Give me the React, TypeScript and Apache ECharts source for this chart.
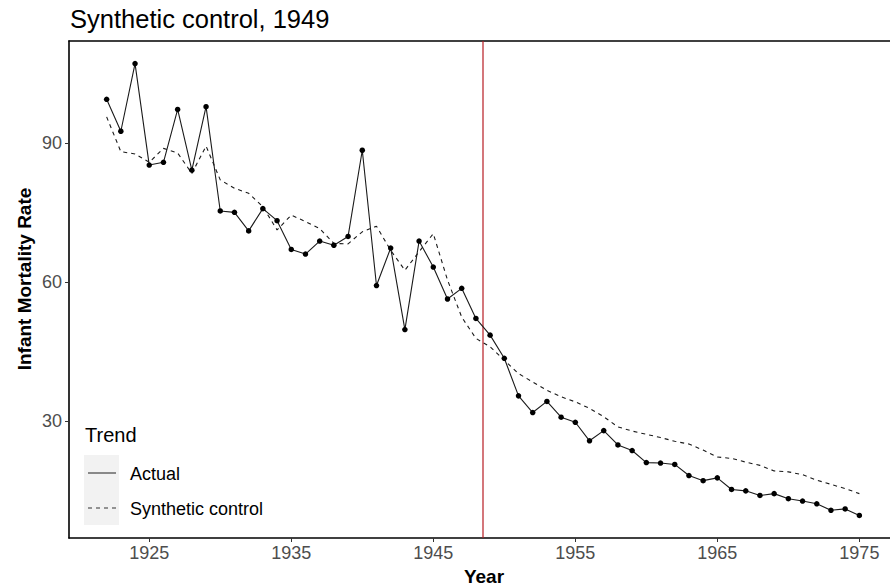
import React, { useEffect, useRef } from "react";
import * as echarts from "echarts";

// Infant mortality: observed series vs. synthetic control, 1922–1975
const years: number[] = [
  1922, 1923, 1924, 1925, 1926, 1927, 1928, 1929, 1930, 1931,
  1932, 1933, 1934, 1935, 1936, 1937, 1938, 1939, 1940, 1941,
  1942, 1943, 1944, 1945, 1946, 1947, 1948, 1949, 1950, 1951,
  1952, 1953, 1954, 1955, 1956, 1957, 1958, 1959, 1960, 1961,
  1962, 1963, 1964, 1965, 1966, 1967, 1968, 1969, 1970, 1971,
  1972, 1973, 1974, 1975,
];

const actual: number[] = [
  99.4, 92.5, 107.1, 85.2, 85.8, 97.2, 84.1, 97.8, 75.3, 75.0,
  71.0, 75.8, 73.2, 67.0, 66.0, 68.8, 67.9, 69.8, 88.4, 59.2,
  67.3, 49.7, 68.8, 63.2, 56.3, 58.6, 52.1, 48.5, 43.5, 35.4,
  31.8, 34.2, 30.8, 29.7, 25.7, 27.9, 24.8, 23.6, 21.0, 20.9,
  20.6, 18.2, 17.1, 17.7, 15.2, 14.9, 13.9, 14.3, 13.2, 12.7,
  12.1, 10.7, 11.0, 9.6,
];

const synthetic: number[] = [
  95.6, 88.1, 87.6, 85.8, 88.8, 87.8, 83.4, 89.3, 82.0, 80.2,
  79.1, 76.2, 71.2, 74.4, 73.0, 71.5, 68.3, 68.2, 70.8, 72.0,
  66.8, 62.5, 66.5, 70.4, 60.4, 52.4, 47.8, 46.0, 43.1, 40.2,
  38.4, 36.6, 35.2, 34.1, 32.7, 30.9, 28.7, 27.8, 27.1, 26.4,
  25.6, 25.0, 23.7, 22.2, 21.9, 21.1, 20.4, 19.2, 19.0, 18.4,
  17.2, 16.3, 15.4, 14.3,
];

const xTicks: number[] = [1925, 1935, 1945, 1955, 1965, 1975];
const yTicks: number[] = [30, 60, 90];
const treatmentYear = 1948.5;
const titleText = "Synthetic control, 1949";
const legendTitle = "Trend";
const seriesNames: string[] = ["Actual", "Synthetic control"];

const FONT = '"Liberation Sans", Arial, Helvetica, sans-serif';
const FRAME = { color: "#000000", width: 1.6 };

// 5% padding on each side of the data range
function expanded(values: number[]): [number, number] {
  const lo = Math.min(...values);
  const hi = Math.max(...values);
  const pad = (hi - lo) * 0.05;
  return [lo - pad, hi + pad];
}

export default function App() {
  const ref = useRef<HTMLDivElement>(null);

  useEffect(() => {
    if (!ref.current) return;
    const chart = echarts.init(ref.current, undefined, { renderer: "svg" });

    const [xMin, xMax] = expanded(years);
    const [yMin, yMax] = expanded([...actual, ...synthetic]);

    const actualData = years.map((y, i) => [y, actual[i]]);
    const syntheticData = years.map((y, i) => [y, synthetic[i]]);
    const treatmentLine = [
      [treatmentYear, yMin],
      [treatmentYear, yMax],
    ];

    const legendX = 84;
    const keyTop = 455;
    const keyRow = 35;

    chart.setOption({
      animation: false,
      backgroundColor: "#ffffff",
      textStyle: { fontFamily: FONT },
      grid: {
        left: 69,
        top: 41,
        width: 828,
        height: 497,
        show: false,
        containLabel: false,
        outerBoundsMode: "none",
      },
      xAxis: [
        {
          type: "value",
          position: "bottom",
          min: xMin,
          max: xMax,
          axisLine: { show: true, onZero: false, lineStyle: FRAME },
          splitLine: { show: false },
          axisTick: {
            show: true,
            length: 4,
            customValues: xTicks,
            lineStyle: { color: "#333333", width: 1 },
          },
          axisLabel: {
            customValues: xTicks,
            margin: 6,
            color: "#4d4d4d",
            fontSize: 18,
            fontFamily: FONT,
            formatter: (v: number) => String(v),
          },
        },
        {
          // top edge of the panel frame
          type: "value",
          position: "top",
          min: xMin,
          max: xMax,
          axisLine: { show: true, onZero: false, lineStyle: FRAME },
          splitLine: { show: false },
          axisTick: { show: false },
          axisLabel: { show: false },
        },
      ],
      yAxis: {
        type: "value",
        min: yMin,
        max: yMax,
        axisLine: { show: true, onZero: false, lineStyle: FRAME },
        splitLine: { show: false },
        axisTick: {
          show: true,
          length: 4,
          customValues: yTicks,
          lineStyle: { color: "#333333", width: 1 },
        },
        axisLabel: {
          customValues: yTicks,
          margin: 7,
          color: "#4d4d4d",
          fontSize: 18,
          fontFamily: FONT,
          formatter: (v: number) => String(v),
        },
      },
      series: [
        {
          name: "treatment",
          type: "line",
          data: treatmentLine,
          symbol: "none",
          silent: true,
          lineStyle: { color: "#b81c22", width: 1.2 },
          z: 1,
        },
        {
          name: seriesNames[1],
          type: "line",
          data: syntheticData,
          symbol: "none",
          showSymbol: false,
          lineStyle: { color: "#1a1a1a", width: 1.1, type: [4, 4] },
          z: 2,
        },
        {
          name: seriesNames[0],
          type: "line",
          data: actualData,
          symbol: "circle",
          symbolSize: 5.5,
          showSymbol: true,
          itemStyle: { color: "#000000" },
          lineStyle: { color: "#1a1a1a", width: 1.1, type: "solid" },
          z: 3,
        },
      ],
      graphic: [
        {
          type: "text",
          left: 70,
          top: 6,
          style: {
            text: titleText,
            fontSize: 25.5,
            fontFamily: FONT,
            fill: "#000000",
          },
        },
        {
          type: "text",
          x: 24,
          y: 279,
          rotation: Math.PI / 2,
          style: {
            text: "Infant Mortality Rate",
            fontSize: 19,
            fontWeight: "bold",
            fontFamily: FONT,
            fill: "#000000",
            align: "center",
            verticalAlign: "middle",
          },
        },
        {
          type: "text",
          x: 484,
          y: 576,
          style: {
            text: "Year",
            fontSize: 19,
            fontWeight: "bold",
            fontFamily: FONT,
            fill: "#000000",
            align: "center",
            verticalAlign: "middle",
          },
        },
        {
          type: "group",
          children: [
            {
              type: "text",
              x: legendX + 1,
              y: 435,
              style: {
                text: legendTitle,
                fontSize: 20,
                fontFamily: FONT,
                fill: "#000000",
                verticalAlign: "middle",
              },
            },
            {
              type: "rect",
              shape: { x: legendX, y: keyTop, width: 35, height: keyRow * 2 },
              style: { fill: "#f2f2f2" },
            },
            {
              type: "line",
              shape: { x1: legendX + 4, y1: keyTop + 18, x2: legendX + 32, y2: keyTop + 18 },
              style: { stroke: "#333333", lineWidth: 1.1 },
            },
            {
              type: "line",
              shape: { x1: legendX + 4, y1: keyTop + 18 + keyRow, x2: legendX + 32, y2: keyTop + 18 + keyRow },
              style: { stroke: "#333333", lineWidth: 1.1, lineDash: [4, 4] },
            },
            {
              type: "text",
              x: 130,
              y: keyTop + 19,
              style: {
                text: seriesNames[0],
                fontSize: 18,
                fontFamily: FONT,
                fill: "#000000",
                verticalAlign: "middle",
              },
            },
            {
              type: "text",
              x: 130,
              y: keyTop + 19 + keyRow,
              style: {
                text: seriesNames[1],
                fontSize: 18,
                fontFamily: FONT,
                fill: "#000000",
                verticalAlign: "middle",
              },
            },
          ],
        },
      ],
    });

    return () => chart.dispose();
  }, []);

  return (
    <div
      ref={ref}
      style={{ position: "fixed", left: 0, top: 0, width: 890, height: 587, background: "#fff" }}
    />
  );
}
